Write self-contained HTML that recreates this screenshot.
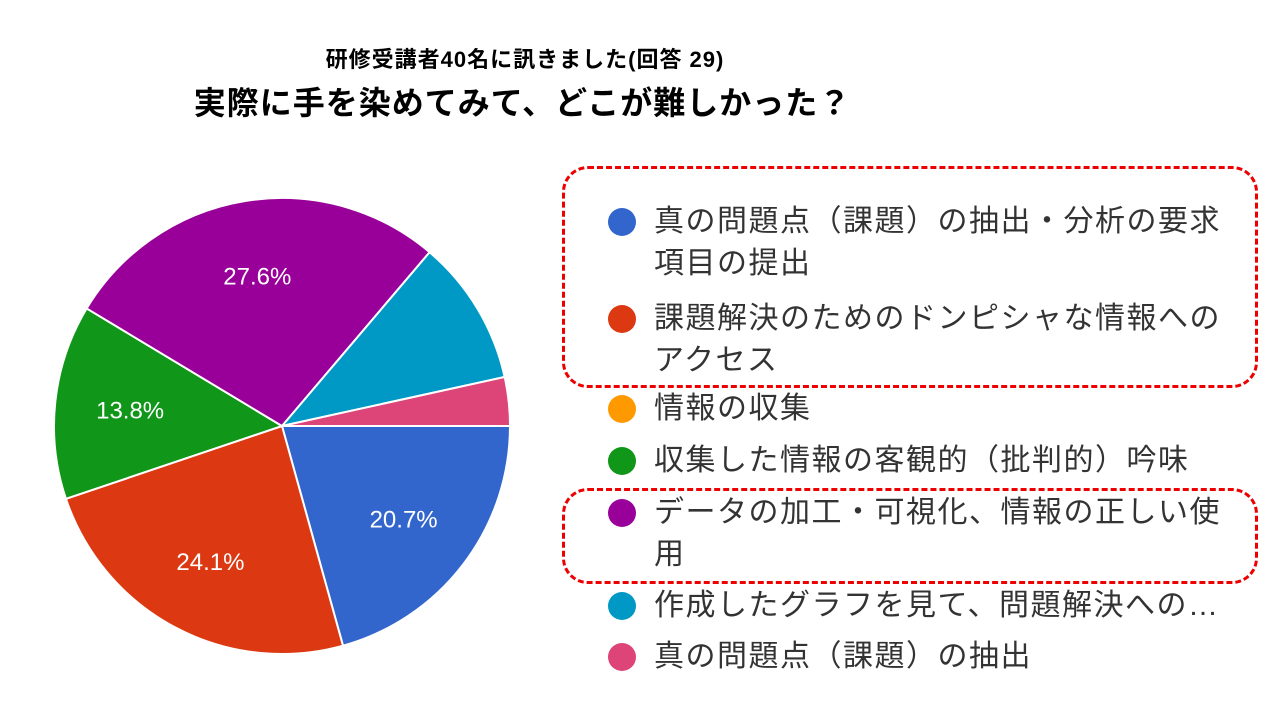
<!DOCTYPE html>
<html><head><meta charset="utf-8">
<style>
body{margin:0;width:1280px;height:720px;background:#fff;overflow:hidden;font-family:"Liberation Sans","Noto Sans CJK JP",sans-serif;}
.t1{position:absolute;left:0;width:1050px;text-align:center;top:42px;font-size:22px;letter-spacing:1px;font-weight:bold;color:#000;}
.t2{position:absolute;left:0;width:1045px;text-align:center;top:78px;font-size:32px;letter-spacing:1px;font-weight:bold;color:#000;}
.leg{position:absolute;left:608px;font-size:30px;letter-spacing:1.5px;color:#333;line-height:42px;}
.dot{position:absolute;left:0;width:28px;height:28px;border-radius:50%;}
.lt{position:absolute;left:46px;white-space:nowrap;}
.box{position:absolute;border:3px dashed #e00;border-radius:26px;}
</style></head><body>
<div class="t1">研修受講者40名に訊きました(回答 29)</div>
<div class="t2">実際に手を染めてみて、どこが難しかった？</div>
<svg id="pie" width="1280" height="720" style="position:absolute;left:0;top:0"></svg>
<div class="box" style="left:562px;top:166px;width:690px;height:216px"></div>
<div class="box" style="left:562px;top:488px;width:690px;height:90px"></div>
<div id="legend"></div>
<script>
const categories=["真の問題点（課題）の抽出・分析の要求\n項目の提出","課題解決のためのドンピシャな情報への\nアクセス","情報の収集","収集した情報の客観的（批判的）吟味","データの加工・可視化、情報の正しい使\n用","作成したグラフを見て、問題解決への…","真の問題点（課題）の抽出"];
const counts=[6,7,0,4,8,3,1];
const colors=["#3366cc","#dc3912","#ff9900","#109618","#990099","#0099c6","#dd4477"];
const cx=282,cy=426,r=228;
const svg=document.getElementById('pie');
const total=counts.reduce((a,b)=>a+b,0);
let a0=0;
counts.forEach((v,i)=>{
  if(!v)return;
  const a1=a0+v/total*2*Math.PI;
  const x0=cx+r*Math.cos(a0),y0=cy+r*Math.sin(a0),x1=cx+r*Math.cos(a1),y1=cy+r*Math.sin(a1);
  const p=document.createElementNS('http://www.w3.org/2000/svg','path');
  p.setAttribute('d',`M${cx},${cy}L${x0},${y0}A${r},${r} 0 ${a1-a0>Math.PI?1:0} 1 ${x1},${y1}Z`);
  p.setAttribute('fill',colors[i]);p.setAttribute('stroke','#fff');p.setAttribute('stroke-width','2');
  
  
  svg.appendChild(p);
  const pct=v/total*100;
  if(pct>12){
    const am=(a0+a1)/2,lr=r*0.67;
    const t=document.createElementNS('http://www.w3.org/2000/svg','text');
    t.setAttribute('x',cx+lr*Math.cos(am));t.setAttribute('y',cy+lr*Math.sin(am)+9);
    t.setAttribute('text-anchor','middle');t.setAttribute('fill','#fff');t.setAttribute('font-size','24');
    t.setAttribute('font-family','Liberation Sans, sans-serif');
    t.textContent=pct.toFixed(1)+'%';
    
    
    svg.appendChild(t);
  }
  a0=a1;
});
const leg=document.getElementById('legend');
const tops=[201,298,388,440,492,585,636];
categories.forEach((c,i)=>{
  const d=document.createElement('div');d.className='leg';d.style.top=tops[i]+'px';
  
  
  d.innerHTML=`<div class="dot" style="top:7px;background:${colors[i]}"></div><div class="lt">${c.replace('\n','<br>')}</div>`;
  leg.appendChild(d);
});
</script>
</body></html>
